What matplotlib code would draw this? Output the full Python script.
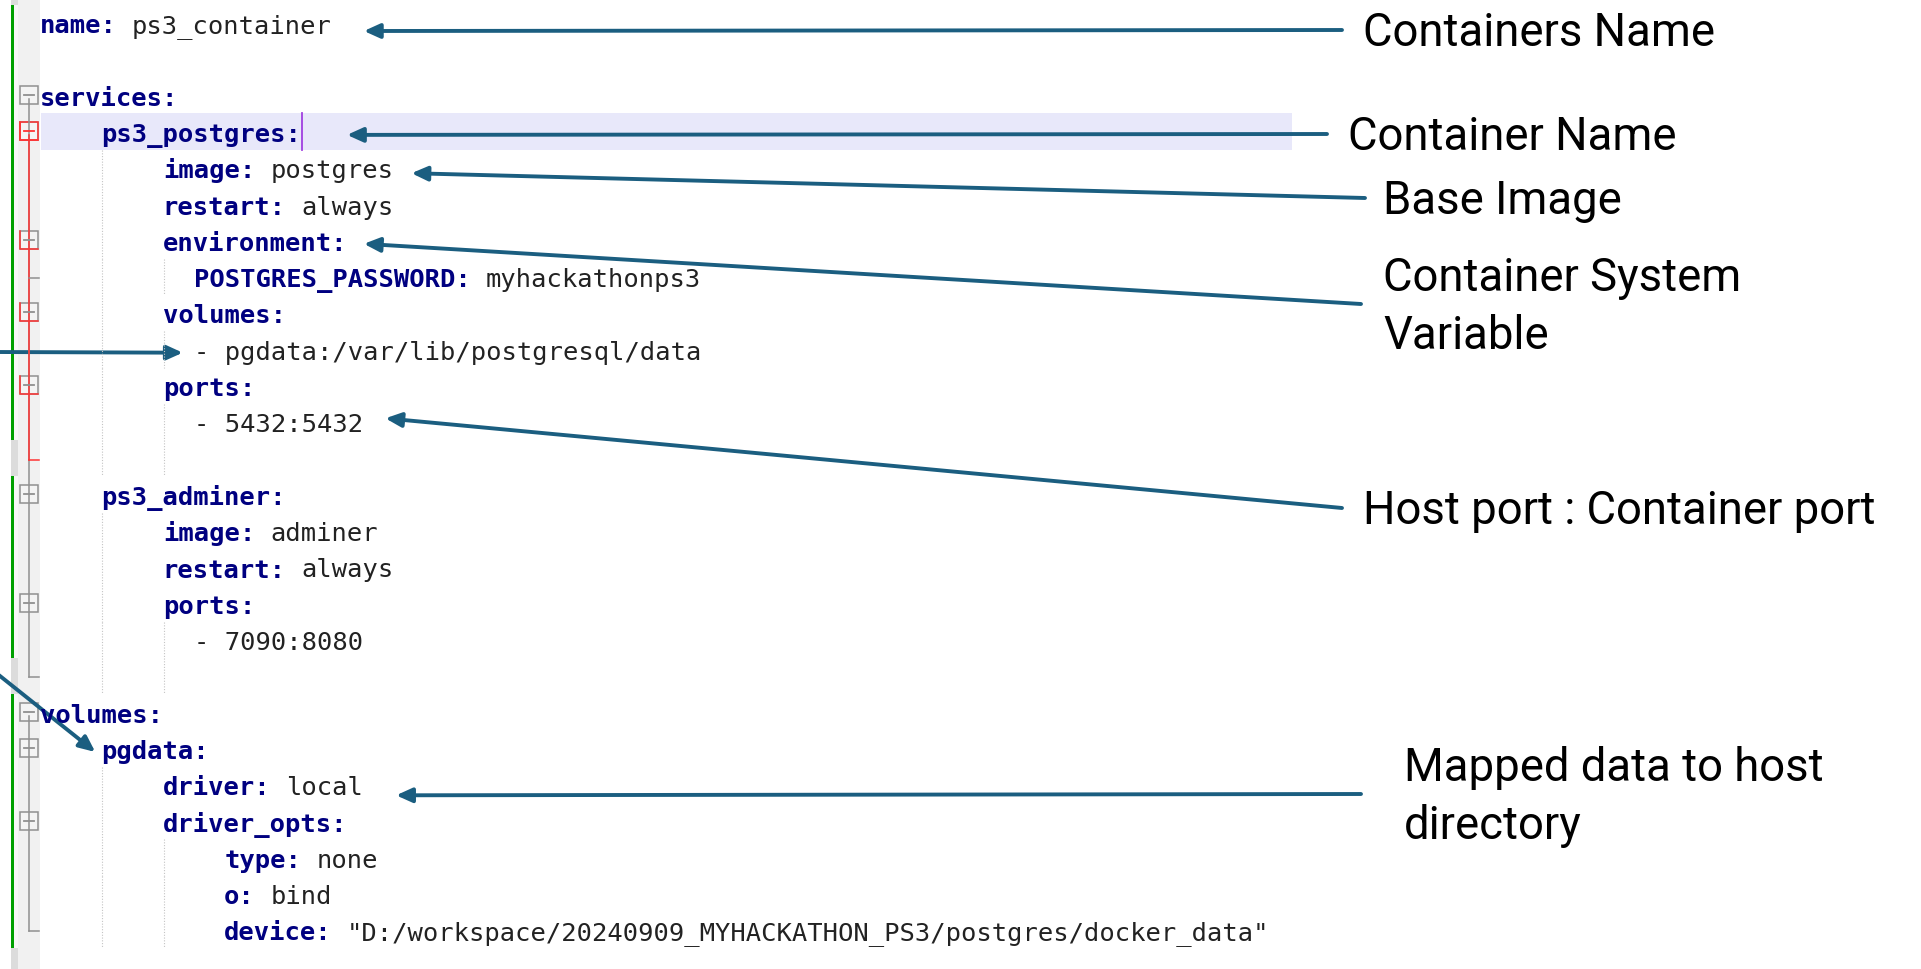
import matplotlib.pyplot as plt
from matplotlib.patches import Rectangle, FancyArrowPatch, ArrowStyle

# YAML lines: indent (in chars), key, value
code_indent = [0, 0, 0, 4, 8, 8, 8, 10, 8, 10, 8, 10, 0,
               4, 8, 8, 8, 10, 0, 0, 4, 8, 8, 12, 12, 12]
code_keys = ['name:', '', 'services:', 'ps3_postgres:', 'image:', 'restart:',
             'environment:', 'POSTGRES_PASSWORD:', 'volumes:', '', 'ports:', '', '',
             'ps3_adminer:', 'image:', 'restart:', 'ports:', '', '',
             'volumes:', 'pgdata:', 'driver:', 'driver_opts:', 'type:', 'o:', 'device:']
code_values = ['ps3_container', '', '', '', 'postgres', 'always',
               '', 'myhackathonps3', '', '- pgdata:/var/lib/postgresql/data', '', '- 5432:5432', '',
               '', 'adminer', 'always', '', '- 7090:8080', '',
               '', '', 'local', '', 'none', 'bind',
               '"D:/workspace/20240909_MYHACKATHON_PS3/postgres/docker_data"']

# editor gutter info
fold_lines = [2, 3, 6, 8, 10, 13, 16, 19, 20, 22]
fold_active = [3, 6, 8, 10]
fold_ends = [7, 12, 18, 25]
changed_ranges = [(0, 11), (13, 17), (19, 25)]
current_line = 3

# annotations
labels = [['Containers Name'], ['Container Name'], ['Base Image'],
          ['Container System', 'Variable'], ['Host port : Container port'],
          ['Mapped data to host', 'directory']]
label_target_line = [0, 3, 4, 6, 11, 21]
label_target_col = [21.1, 20.0, 24.2, 21.1, 22.5, 23.2]
# arrows coming in from the left edge
side_target_line = [9, 20]
side_target_col = [9.3, 3.6]

# layout
W, H = 1921, 969
X0, CW = 40, 15.35
Y0, LH = 26, 36.3
label_x = [1363, 1348, 1383, 1383, 1363, 1404]
label_yc = [30, 134, 198, 304, 508, 794]
tail_gap = [21, 21, 18, 22, 21, 43]
tip_dy = [5, 0, 2, 0, -7, 7]
side_start_y = [352, 672]
ARROW = '#1b5e80'
KEY = '#000080'
VAL = '#222222'


def yc(i):
    return Y0 + LH * i


def xc(col):
    return X0 + CW * col


fig = plt.figure(figsize=(W / 100, H / 100), dpi=100)
ax = fig.add_axes([0, 0, 1, 1])
ax.set_xlim(0, W)
ax.set_ylim(H, 0)
ax.axis('off')

# gutter
ax.add_patch(Rectangle((11, 0), 29, H, fc='#f1f1f1', ec='none'))
ax.add_patch(Rectangle((11, 0), 7, H, fc='#dcdcdc', ec='none'))
for a, b in changed_ranges:
    ax.add_patch(Rectangle((11, yc(a) - 21.5), 3, yc(b) - yc(a) + LH,
                           fc='#00a000', ec='none'))
    ax.add_patch(Rectangle((14, yc(a) - 21.5), 4, yc(b) - yc(a) + LH,
                           fc='#f7f7f7', ec='none'))

# current line highlight + cursor
ax.add_patch(Rectangle((41, yc(current_line) - 22), 1251, 37, fc='#e8e8fa', ec='none'))
cur_x = xc(code_indent[current_line] + len(code_keys[current_line])) + 1
ax.plot([cur_x, cur_x], [yc(current_line) - 22, yc(current_line) + 15],
        color='#a040e0', lw=1.3)

# fold lines
fx = 29
ax.plot([fx, fx], [yc(2), yc(18) - 2], color='#909090', lw=1.1)
ax.plot([fx, fx], [yc(3), yc(12) - 2], color='#ff3333', lw=1.1)
ax.plot([fx, 39], [yc(12) - 2, yc(12) - 2], color='#ff3333', lw=1.1)
ax.plot([fx, fx], [yc(19), yc(25) - 2], color='#909090', lw=1.1)
for e in fold_ends:
    if e != 12:
        ax.plot([fx, 39], [yc(e) - 2, yc(e) - 2], color='#909090', lw=1.1)
for f in fold_lines:
    cy = yc(f) - 4
    ax.add_patch(Rectangle((fx - 9, cy - 9), 18, 18, fc='#f4f4f4', ec='#909090', lw=1.1))
    mcol = '#909090'
    if f in fold_active:
        ax.plot([fx - 9, fx - 9, fx + 9], [cy - 9, cy + 9, cy + 9], color='#ff3333', lw=1.1)
        if f == current_line:
            ax.add_patch(Rectangle((fx - 9, cy - 9), 18, 18, fc='none', ec='#ff3333', lw=1.1))
            mcol = '#ff3333'
    ax.plot([fx - 5, fx + 5], [cy, cy], color=mcol, lw=1.3)

# indent guides
prev = 0
for i in range(len(code_keys)):
    ind = code_indent[i]
    if code_keys[i] == '' and code_values[i] == '':
        ind = prev
    else:
        prev = ind
    for g in (4, 8):
        if ind > g:
            gx = xc(g) + 1
            ax.plot([gx, gx], [yc(i) - 21.5, yc(i) + 14.8], color='#c4c4c4',
                    lw=0.8, ls=(0, (1, 1.5)))

# code text
mono = 'DejaVu Sans Mono'
for i in range(len(code_keys)):
    base = yc(i) + 7
    col = code_indent[i]
    if code_keys[i]:
        ax.text(xc(col), base, code_keys[i], family=mono, size=18.35, weight='bold',
                color=KEY, va='baseline', ha='left')
        col += len(code_keys[i]) + 1
    if code_values[i]:
        ax.text(xc(col), base, code_values[i], family=mono, size=18.35,
                color=VAL, va='baseline', ha='left')


def arrow(p0, p1):
    ax.add_patch(FancyArrowPatch(p0, p1,
                                 arrowstyle=ArrowStyle('-|>', head_length=9.5, head_width=4.3),
                                 mutation_scale=1, lw=2.8, color=ARROW,
                                 shrinkA=0, shrinkB=0))


# labels with arrows
for k, lines in enumerate(labels):
    n = len(lines)
    for j, s in enumerate(lines):
        base = label_yc[k] + 16 + (j - (n - 1) / 2) * 58
        ax.text(label_x[k], base, s, family='Roboto', size=32.8, color='black',
                va='baseline', ha='left')
    arrow((label_x[k] - tail_gap[k], label_yc[k]),
          (xc(label_target_col[k]), yc(label_target_line[k]) + tip_dy[k]))

for k in range(len(side_target_line)):
    arrow((-5, side_start_y[k]), (xc(side_target_col[k]), yc(side_target_line[k])))

fig.savefig('out.png', dpi=100)
